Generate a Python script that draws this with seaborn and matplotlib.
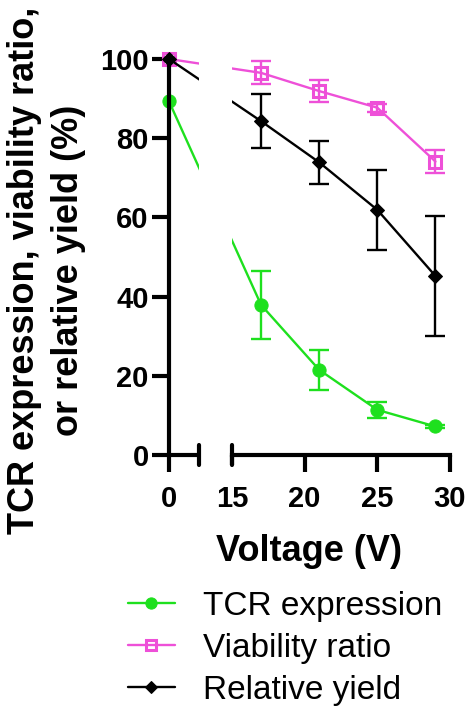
# line chart with a broken x axis (0 | 15-30)
import matplotlib
matplotlib.use('Agg')
from matplotlib import pyplot as plt
import matplotlib.transforms as mtransforms
import seaborn as sns
import pandas as pd

# data
voltage = [0, 17, 21, 25, 29]
tcr = [89.3, 37.9, 21.5, 11.4, 7.2]
tcr_sd = [0, 8.6, 5.0, 2.1, 0.5]
viability = [100, 96.5, 91.9, 87.7, 74.1]
viability_sd = [0, 2.9, 2.8, 1.0, 3.0]
rel_yield = [100, 84.3, 73.9, 61.9, 45.2]
rel_yield_sd = [0, 6.9, 5.5, 10.1, 15.2]
xtick_values = [0, 15, 20, 25, 30]
ytick_values = [0, 20, 40, 60, 80, 100]

# broken axis: first segment 0..~2.07, gap, second segment 15..30
seg1_end = 2.065
seg2_start = 15
offset = 10.664


def to_u(x):
    return x if x < seg2_start - 5 else x - offset


sns.set_style('ticks')
plt.rcParams['font.family'] = ['Liberation Sans', 'DejaVu Sans']
plt.rcParams['text.color'] = 'black'
plt.rcParams['axes.labelcolor'] = 'black'
plt.rcParams['axes.edgecolor'] = 'black'
plt.rcParams['xtick.color'] = 'black'
plt.rcParams['ytick.color'] = 'black'

fig = plt.figure(figsize=(4.72, 7.08), dpi=100)
ax = fig.add_axes([169 / 472, 1 - 455 / 708, 281 / 472, 396 / 708])

green = '#1EE01E'
pink = '#EE50D8'
black = '#000000'

series = [
    ('TCR expression', tcr, tcr_sd, green, dict(marker='o', markersize=9.5, mfc=green, mec=green)),
    ('Viability ratio', viability, viability_sd, pink, dict(marker='s', markersize=9, mfc='none', mec=pink, mew=2.2)),
    ('Relative yield', rel_yield, rel_yield_sd, black, dict(marker='D', markersize=7.5, mfc=black, mec=black)),
]

u = [to_u(v) for v in voltage]
for name, vals, sd, col, mk in series:
    df = pd.DataFrame({'u': u, 'val': vals})
    sns.lineplot(data=df, x='u', y='val', ax=ax, color=col, lw=1.7, label=name,
                 clip_on=False, zorder=2, **mk)
    ax.errorbar(u[1:], vals[1:], yerr=sd[1:], fmt='none', ecolor=col, elinewidth=1.7,
                capsize=7, capthick=1.7, zorder=1.5, clip_on=False)

# hide the lines in the axis gap
ax.axvspan(seg1_end, to_u(seg2_start), color='white', zorder=3, lw=0)

ax.set_xlim(0, to_u(30))
ax.set_ylim(0, 100)
ax.set_yticks(ytick_values)
ax.set_xticks([to_u(v) for v in xtick_values])
ax.set_xticklabels([str(v) for v in xtick_values])

for s in ['top', 'right', 'bottom']:
    ax.spines[s].set_visible(False)
ax.spines['left'].set_linewidth(3)
ax.spines['left'].set_color('black')
ax.spines['left'].set_zorder(5)

ax.tick_params(axis='both', width=3, length=12.5, direction='out', color='black')
ax.tick_params(axis='y', pad=2, labelsize=21)
ax.tick_params(axis='x', pad=9, labelsize=21)
ax.xaxis.get_major_ticks()[1].tick1line.set_markersize(7)
for lab in ax.get_xticklabels() + ax.get_yticklabels():
    lab.set_fontweight('bold')

# x axis segments and break marks
trans = mtransforms.blended_transform_factory(ax.transData, ax.transAxes)
ax.plot([0, seg1_end], [0, 0], color='black', lw=3, transform=trans,
        clip_on=False, solid_capstyle='butt', zorder=5)
ax.plot([to_u(seg2_start), to_u(30)], [0, 0], color='black', lw=3, transform=trans,
        clip_on=False, solid_capstyle='projecting', zorder=5)
for bx in [seg1_end, to_u(seg2_start)]:
    ax.plot([bx, bx], [-10 / 396, 10 / 396], color='black', lw=3, transform=trans,
            clip_on=False, zorder=5)

ax.set_xlabel('Voltage (V)', fontsize=26, fontweight='bold', labelpad=15)
ax.set_ylabel('TCR expression, viability ratio,\nor relative yield (%)', fontsize=26,
              fontweight='bold', linespacing=1.35)
ax.yaxis.set_label_coords(-0.295, 0.467)

ax.legend_.remove()
handles, labels = ax.get_legend_handles_labels()
fig.legend(handles, labels, loc='upper left', bbox_to_anchor=(128 / 472, 1 - 591 / 708),
           frameon=False, fontsize=24, handlelength=1.4, handletextpad=0.85,
           labelspacing=0.33, borderpad=0, borderaxespad=0, markerscale=0.85)

fig.savefig('out.png', dpi=100)
